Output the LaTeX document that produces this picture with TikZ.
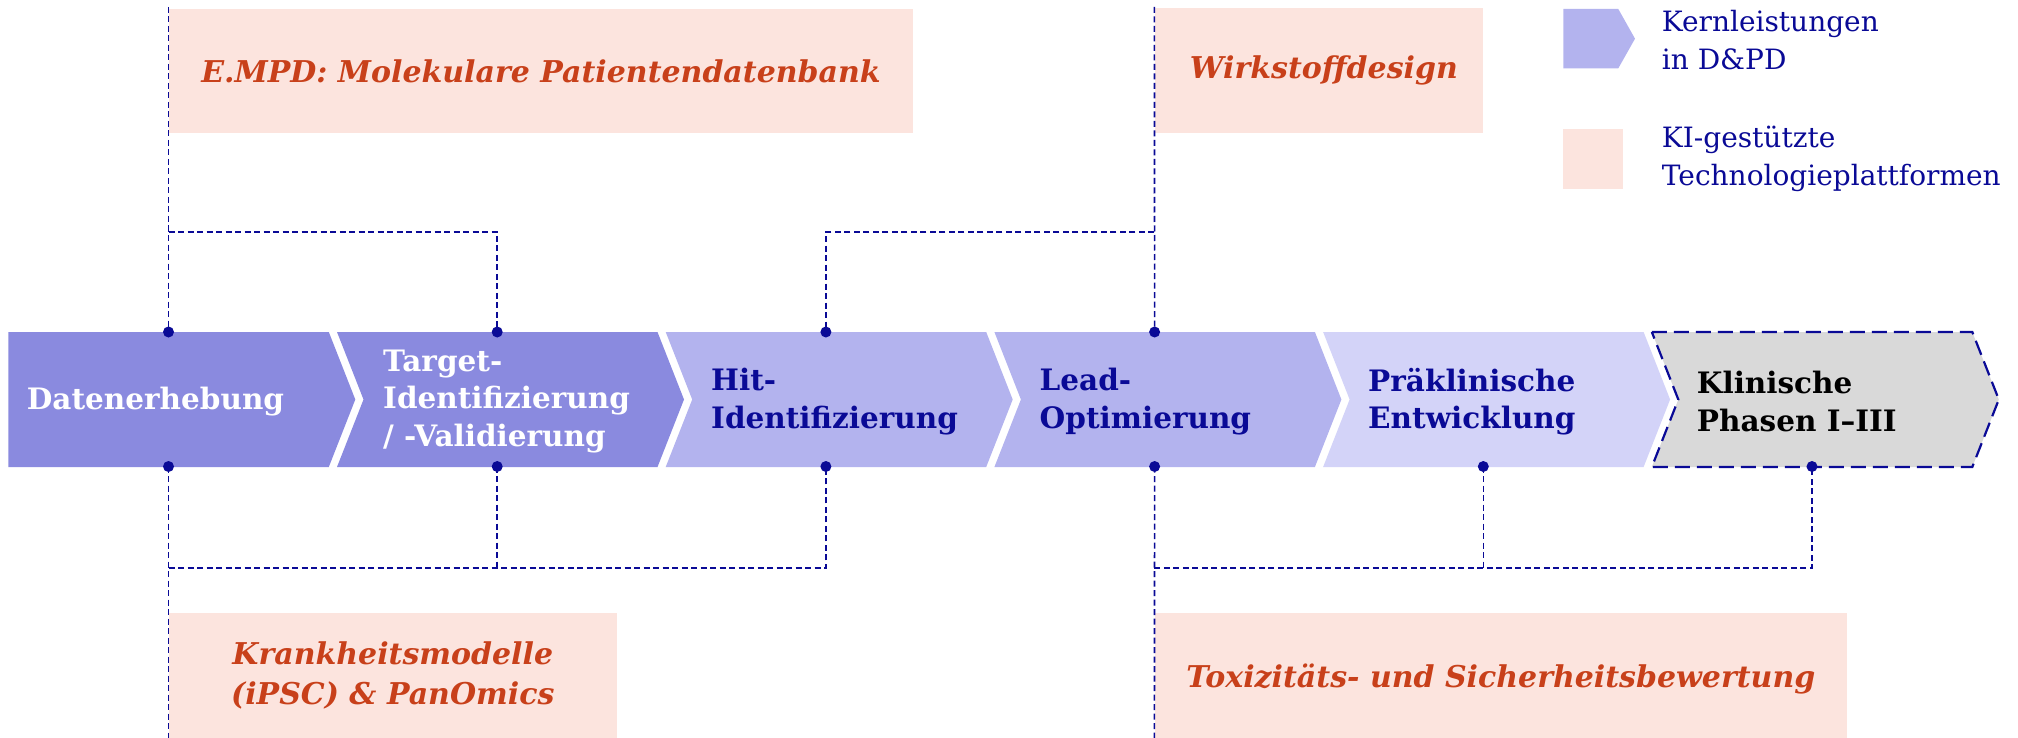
\documentclass[tikz,border=0pt]{standalone}
\usepackage{fontspec}
\setmainfont{DejaVu Serif}
\definecolor{navy}{HTML}{0A0A96}
\definecolor{chA}{HTML}{8A8ADF}
\definecolor{chB}{HTML}{B3B3EE}
\definecolor{chC}{HTML}{D3D3F8}
\definecolor{chD}{HTML}{D9D9D9}
\definecolor{pinkbg}{HTML}{FCE4DE}
\definecolor{orng}{HTML}{C8401A}
\tikzset{
  chevtext/.style={anchor=west, inner sep=0pt, align=left, font=\fontsize{29.5}{37.5}\selectfont\bfseries},
  pbox/.style={fill=pinkbg, inner sep=0pt, align=center, anchor=north west, font=\fontsize{30}{40}\selectfont\bfseries\itshape, text=orng},
  legtext/.style={anchor=west, inner sep=0pt, align=left, text=navy, font=\fontsize{28}{37.6}\selectfont},
  conn/.style={navy, line width=1.6pt, dash pattern=on 6pt off 3.5pt},
  dotc/.style={fill=navy},
}
\begin{document}
\begin{tikzpicture}[x=1pt,y=-1pt]
\useasboundingbox (0,0) rectangle (2018,738);
% platform boxes
\node[pbox, minimum width=744.4pt, minimum height=124pt] (empd) at (168.6,9) {E.MPD: Molekulare Patientendatenbank};
\node[pbox, minimum width=328.6pt, minimum height=125pt, inner xsep=0pt, text width=328.6pt] (wirk) at (1154.4,8) {\hspace*{10pt}Wirkstoffdesign};
\node[pbox, minimum width=448pt, minimum height=125pt] (krank) at (168.6,613) {Krankheitsmodelle\\(iPSC) \& PanOmics};
\node[pbox, minimum width=692.6pt, minimum height=132pt] (tox) at (1154.4,613) {Toxizitäts- und Sicherheitsbewertung};
% chevrons
\fill[chA] (8.3,332) -- (328.8,332) -- (355.3,399.5) -- (328.8,467) -- (8.3,467) -- cycle;
\foreach \i/\c in {2/chA,3/chB,4/chB,5/chC}{
  \pgfmathsetmacro\L{8.3+(\i-1)*328.7}
  \fill[\c] (\L,332) -- (\L+320.5,332) -- (\L+347,399.5) -- (\L+320.5,467) -- (\L,467) -- (\L+26.5,399.5) -- cycle;
}
\filldraw[fill=chD, draw=navy, line width=2.2pt, dash pattern=on 15pt off 7pt]
  (1651.8,332) -- (1972.3,332) -- (1998.8,399.5) -- (1972.3,467) -- (1651.8,467) -- (1678.3,399.5) -- cycle;
% chevron labels
\node[chevtext, text=white] (c1) at (26.7,401.5) {Datenerhebung};
\node[chevtext, text=white] (c2) at (383,401.5) {Target-\\Identifizierung\\/ -Validierung};
\node[chevtext, text=navy] (c3) at (711,401.5) {Hit-\\Identifizierung};
\node[chevtext, text=navy] (c4) at (1039.5,401.5) {Lead-\\Optimierung};
\node[chevtext, text=navy] (c5) at (1368,401.5) {Präklinische\\Entwicklung};
\node[chevtext, text=black] (c6) at (1696.7,401.5) {Klinische\\Phasen I–III};
% attachment points
\foreach \i in {1,...,6}{
  \pgfmathsetmacro\X{168.5+(\i-1)*328.7}
  \coordinate (t\i) at (\X,332);
  \coordinate (b\i) at (\X,466.5);
}
\coordinate (topA) at (168.5,7);
\coordinate (topB) at (1154.4,7);
\coordinate (botA) at (168.5,738);
\coordinate (botB) at (1154.4,738);
\coordinate (jA) at (168.5,232);
\coordinate (jB) at (1154.4,232);
\coordinate (kA) at (168.5,568);
\coordinate (kB) at (1154.4,568);
% connectors
\draw[conn] (topA) -- (t1);
\draw[conn] (jA) -- (t2 |- jA) -- (t2);
\draw[conn] (topB) -- (t4);
\draw[conn] (jB) -- (t3 |- jB) -- (t3);
\draw[conn] (b1) -- (botA);
\draw[conn] (kA) -- (b3 |- kA) -- (b3);
\draw[conn] (b2) -- (b2 |- kA);
\draw[conn] (b4) -- (botB);
\draw[conn] (kB) -- (b6 |- kB) -- (b6);
\draw[conn] (b5) -- (b5 |- kB);
\foreach \i in {1,...,4}{
  \fill[dotc] (t\i) circle (5.5);
}
\foreach \i in {1,...,6}{
  \fill[dotc] (b\i) circle (5.5);
}
% legend
\fill[chB] (1563.3,9) -- (1618.3,9) -- (1635,38.7) -- (1618.3,68.3) -- (1563.3,68.3) -- cycle;
\fill[pinkbg] (1563.3,129) rectangle (1622.7,188.7);
\node[legtext] (l1) at (1661.7,40) {Kernleistungen\\in D\&PD};
\node[legtext] (l2) at (1661.7,159) {KI-gestützte\\Technologieplattformen};
\end{tikzpicture}
\end{document}
